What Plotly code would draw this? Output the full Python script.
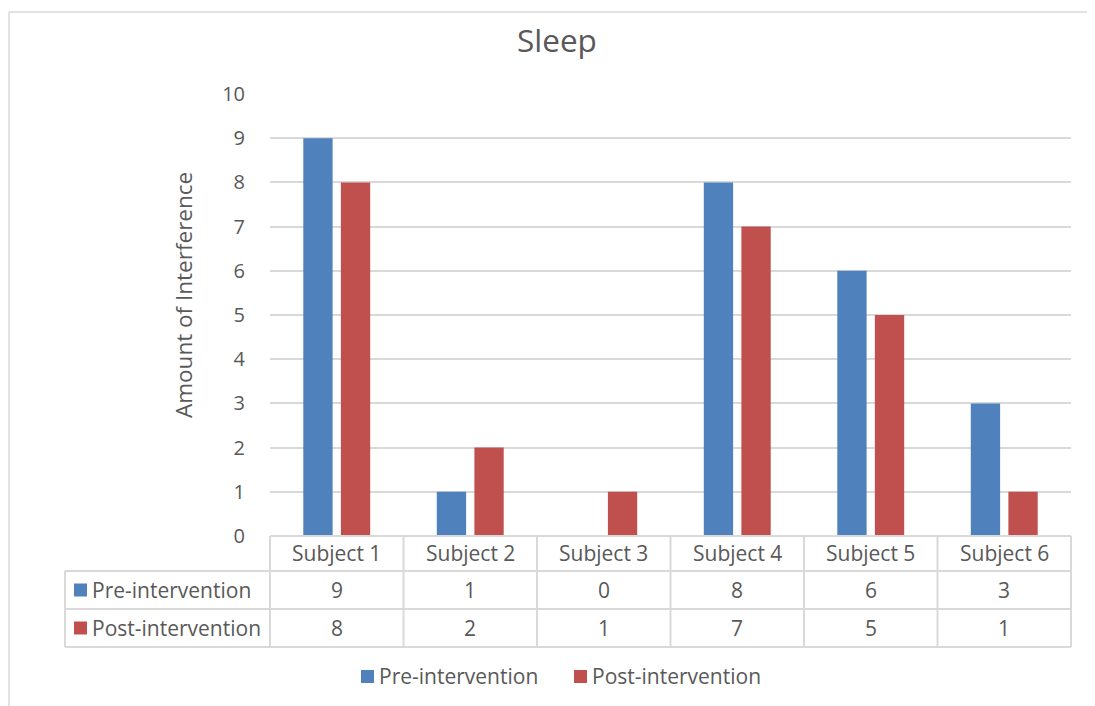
import plotly.graph_objects as go

categories = ["Subject 1", "Subject 2", "Subject 3", "Subject 4", "Subject 5", "Subject 6"]
series_names = ["Pre-intervention", "Post-intervention"]
pre_values = [9, 1, 0, 8, 6, 3]
post_values = [8, 2, 1, 7, 5, 1]
y_ticks = list(range(0, 11))

colors = ["#4F81BD", "#C0504D"]
grid = "#D9D9D9"
txt = "#595959"
FONT = "Open Sans"

OFF = 8  # page body margin
W, H = 1095, 706 - OFF
# plot area in screenshot pixel coordinates
SL, SR, ST, SB = 270, 1071, 94, 536
L, R, T, B = SL - OFF, SR - OFF, ST - OFF, SB - OFF


def px(x):
    return (x - SL) / (SR - SL)


def py(y):
    return (SB - y) / (SB - ST)


fig = go.Figure()
for name, vals, col in zip(series_names, [pre_values, post_values], colors):
    fig.add_trace(go.Bar(x=categories, y=vals, name=name, showlegend=False,
                         marker=dict(color=col, line=dict(width=0))))

shapes = []
annotations = []
line_style = dict(color=grid, width=2)
FS = 21

# table horizontal lines
row_y = [536, 571, 609, 647]
shapes.append(dict(type="line", xref="paper", yref="paper", x0=0, x1=1, y0=py(row_y[0]), y1=py(row_y[0]), line=line_style))
for yy in row_y[1:]:
    shapes.append(dict(type="line", xref="paper", yref="paper", x0=px(65), x1=1, y0=py(yy), y1=py(yy), line=line_style))
# vertical lines
shapes.append(dict(type="line", xref="paper", yref="paper", x0=px(65), x1=px(65), y0=py(571), y1=py(647), line=line_style))
n = len(categories)
for i in range(n + 1):
    xx = i / n
    shapes.append(dict(type="line", xref="paper", yref="paper", x0=xx, x1=xx, y0=py(536), y1=py(647), line=line_style))

# table text
for i, cat in enumerate(categories):
    annotations.append(dict(x=(i + 0.5) / n, y=py(553), xref="paper", yref="paper", text=cat,
                            showarrow=False, font=dict(family=FONT, size=FS, color=txt), xanchor="center", yanchor="middle"))
    for vals, yy in [(pre_values, 590), (post_values, 628)]:
        annotations.append(dict(x=(i + 0.5) / n, y=py(yy), xref="paper", yref="paper", text=str(vals[i]),
                                showarrow=False, font=dict(family=FONT, size=FS, color=txt), xanchor="center", yanchor="middle"))
for name, col, yy in zip(series_names, colors, [590, 628]):
    shapes.append(dict(type="rect", xref="paper", yref="paper", x0=px(74), x1=px(87), y0=py(yy - 6.5), y1=py(yy + 6.5),
                       fillcolor=col, line=dict(width=0)))
    annotations.append(dict(x=px(90), y=py(yy), xref="paper", yref="paper", text=name, showarrow=False,
                            font=dict(family=FONT, size=FS, color=txt), xanchor="left", yanchor="middle"))

# bottom legend
for name, col, x0 in zip(series_names, colors, [361, 574]):
    shapes.append(dict(type="rect", xref="paper", yref="paper", x0=px(x0), x1=px(x0 + 13), y0=py(670), y1=py(683),
                       fillcolor=col, line=dict(width=0)))
    annotations.append(dict(x=px(x0 + 16), y=py(676), xref="paper", yref="paper", text=name, showarrow=False,
                            font=dict(family=FONT, size=FS, color=txt), xanchor="left", yanchor="middle"))

# chart border (cropped)
shapes.append(dict(type="line", xref="paper", yref="paper", x0=px(9), x1=px(1110), y0=py(12), y1=py(12), line=dict(color=grid, width=1.5)))
shapes.append(dict(type="line", xref="paper", yref="paper", x0=px(9), x1=px(9), y0=py(12), y1=py(710), line=dict(color=grid, width=1.5)))

# y-axis title
annotations.append(dict(x=px(183), y=py(295), xref="paper", yref="paper", text="Amount of Interference",
                        textangle=-90, showarrow=False, font=dict(family=FONT, size=22.5, color=txt),
                        xanchor="center", yanchor="middle"))

# title
annotations.append(dict(x=px(557), y=py(40), xref="paper", yref="paper", text="Sleep", showarrow=False,
                        font=dict(family=FONT, size=31.5, color=txt), xanchor="center", yanchor="middle"))

fig.update_layout(
    width=W, height=H,
    margin=dict(l=L, r=W - R, t=T, b=H - B, pad=0),
    paper_bgcolor="white", plot_bgcolor="white",
    barmode="group", bargap=0.437, bargroupgap=0.22,
    xaxis=dict(showticklabels=False, showgrid=False, zeroline=False, showline=False, ticks=""),
    yaxis=dict(range=[0, 10], tickvals=y_ticks, showgrid=True, gridcolor=grid, gridwidth=1.5,
               zeroline=False, showline=False, ticks="outside", ticklen=20, tickcolor="rgba(0,0,0,0)",
               tickfont=dict(family=FONT, size=20, color=txt)),
    showlegend=False,
    shapes=shapes, annotations=annotations, font=dict(family=FONT),
)

fig.write_html("out.html")
